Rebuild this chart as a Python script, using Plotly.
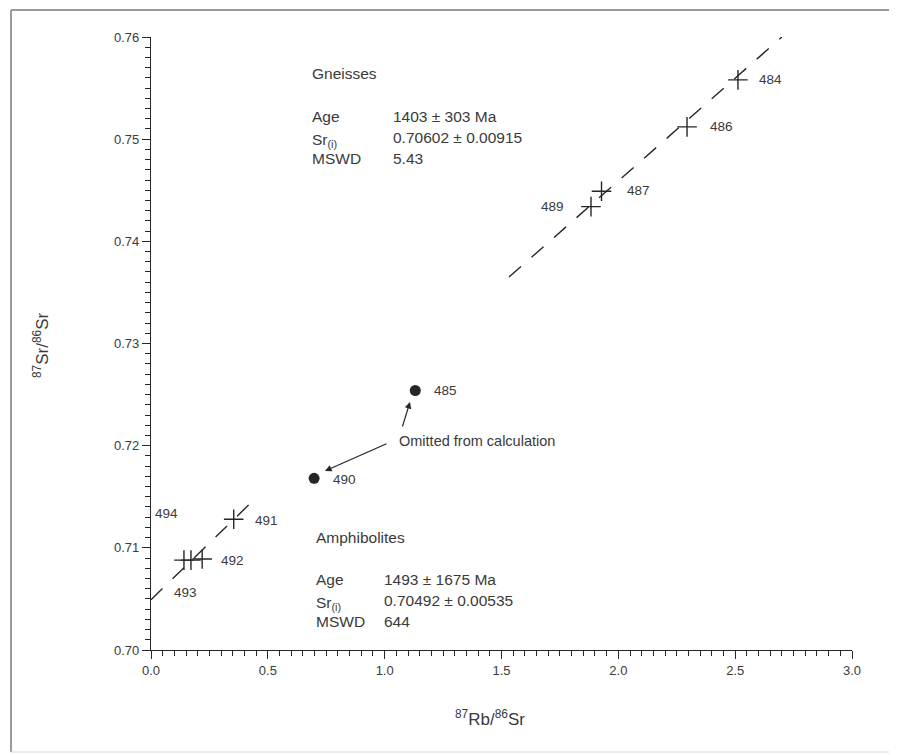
import plotly.graph_objects as go

# ---------------- data ----------------
gneiss_ids = ["484", "486", "487", "489"]
gneiss_rb = [2.512, 2.294, 1.928, 1.883]
gneiss_sr = [0.7558, 0.7512, 0.7449, 0.7434]

amph_ids = ["491", "492", "493", "494"]
amph_rb = [0.354, 0.219, 0.171, 0.141]
amph_sr = [0.7128, 0.7089, 0.7088, 0.7088]

omit_ids = ["485", "490"]
omit_rb = [1.131, 0.698]
omit_sr = [0.7254, 0.7168]

gneiss_line_rb = [1.532, 2.700]
gneiss_line_sr = [0.7365, 0.7600]
amph_line_rb = [0.0, 0.445]
amph_line_sr = [0.70492, 0.7148]

gneiss_stats = [("Age", "1403 ± 303 Ma"), ("Sr<sub>(i)</sub>", "0.70602 ± 0.00915"), ("MSWD", "5.43")]
amph_stats = [("Age", "1493 ± 1675 Ma"), ("Sr<sub>(i)</sub>", "0.70492 ± 0.00535"), ("MSWD", "644")]

x_ticks = [0.0, 0.5, 1.0, 1.5, 2.0, 2.5, 3.0]
y_ticks = [0.70, 0.71, 0.72, 0.73, 0.74, 0.75, 0.76]

# ---------------- styles ----------------
INK = "#262626"
TXT = "#3a3a3a"
FONT = "Arial, Liberation Sans, sans-serif"

# plot area in page pixels (page has an 8px body margin)
PL, PR, PT, PB = 150, 851, 37, 650
OFFX, OFFY = 7, 8

# label offsets (px): xshift, yshift, xanchor
label_style = {
    "484": (19, 0, "left"), "486": (21, 0, "left"), "487": (23, 1, "left"),
    "489": (-25, 0, "right"), "485": (17, 0, "left"), "490": (17, -1, "left"),
    "491": (19, -1, "left"), "492": (17, -1, "left"),
    "494": (-17, 47, "center"), "493": (-5, -32, "center"),
}

fig = go.Figure()

# regression lines
for lx, ly in [(gneiss_line_rb, gneiss_line_sr), (amph_line_rb, amph_line_sr)]:
    fig.add_trace(go.Scatter(x=lx, y=ly, mode="lines",
                             line=dict(color=INK, width=1.4, dash="16px,14px"),
                             hoverinfo="skip", showlegend=False, cliponaxis=False))

# cross markers
fig.add_trace(go.Scatter(x=gneiss_rb + amph_rb, y=gneiss_sr + amph_sr, mode="markers",
                         marker=dict(symbol="cross-thin", size=14,
                                     line=dict(color=INK, width=1.4)),
                         showlegend=False, cliponaxis=False))
# omitted points
fig.add_trace(go.Scatter(x=omit_rb, y=omit_sr, mode="markers",
                         marker=dict(symbol="circle", size=11, color=INK),
                         showlegend=False, cliponaxis=False))

annotations = []
for ids, xs, ys in [(gneiss_ids, gneiss_rb, gneiss_sr), (amph_ids, amph_rb, amph_sr),
                    (omit_ids, omit_rb, omit_sr)]:
    for t, xv, yv in zip(ids, xs, ys):
        dx, dy, anc = label_style[t]
        annotations.append(dict(x=xv, y=yv, xref="x", yref="y", text=t, showarrow=False,
                                xshift=dx, yshift=dy, xanchor=anc, yanchor="middle",
                                font=dict(family=FONT, size=13.5, color=TXT)))

def px_to_data(px, py):
    return (px - 150) / 233.67, 0.70 + (650 - py) / 10217.0

def stat_block(title, stats, x0, x1, ytitle, y0):
    xa, ya = px_to_data(x0, ytitle)
    annotations.append(dict(x=xa, y=ya, text=title, showarrow=False, xanchor="left",
                            yanchor="middle", font=dict(family=FONT, size=15.5, color=TXT)))
    for i, (k, v) in enumerate(stats):
        xk, yk = px_to_data(x0, y0 + 21 * i)
        xv, _ = px_to_data(x1, y0 + 21 * i)
        ysh = -3 if "sub" in k else 0
        annotations.append(dict(x=xk, y=yk, text=k, showarrow=False, xanchor="left",
                                yanchor="middle", yshift=ysh,
                                font=dict(family=FONT, size=15.5, color=TXT)))
        annotations.append(dict(x=xv, y=yk, text=v, showarrow=False, xanchor="left",
                                yanchor="middle", font=dict(family=FONT, size=15.5, color=TXT)))

stat_block("Gneisses", gneiss_stats, 309, 390, 73, 116)
stat_block("Amphibolites", amph_stats, 313, 381, 537, 579)

# omitted note + arrows
nx, ny = px_to_data(396, 441)
annotations.append(dict(x=nx, y=ny, text="Omitted from calculation", showarrow=False,
                        xanchor="left", yanchor="middle",
                        font=dict(family=FONT, size=14.5, color=TXT)))
for (tx, ty), (hx, hy) in [((401, 428), (409, 402)), ((387, 443), (324, 471))]:
    a, b = px_to_data(tx, ty)
    c, d = px_to_data(hx, hy)
    annotations.append(dict(x=c, y=d, ax=a, ay=b, xref="x", yref="y", axref="x", ayref="y",
                            text="", showarrow=True, arrowhead=2, arrowsize=1.1,
                            arrowwidth=1.2, arrowcolor=INK, standoff=0))

# axis titles
annotations.append(dict(x=(489 - 150) / 701, y=(650 - 718) / 613, xref="paper", yref="paper",
                        text="<sup>87</sup>Rb/<sup>86</sup>Sr", showarrow=False,
                        xanchor="center", yanchor="middle",
                        font=dict(family=FONT, size=17, color=TXT)))
annotations.append(dict(x=(40 - 150) / 701, y=(650 - 345) / 613, xref="paper", yref="paper",
                        text="<sup>87</sup>Sr/<sup>86</sup>Sr", showarrow=False, textangle=-90,
                        xanchor="center", yanchor="middle",
                        font=dict(family=FONT, size=17, color=TXT)))

# outer frame (left, top, bottom edges)
fl, fr = (10 - 150) / 701, (1000 - 150) / 701
ft, fb = (650 - 10) / 613, (650 - 752) / 613
frame = dict(type="line", xref="paper", yref="paper",
             line=dict(color="#9a9a9a", width=2), layer="below")
shapes = [dict(frame, x0=fl, x1=fl, y0=fb, y1=ft),
          dict(frame, x0=fl, x1=fr, y0=ft, y1=ft),
          dict(frame, x0=fl, x1=fr, y0=fb, y1=fb, line=dict(color="#d8d8d8", width=1))]

fig.update_layout(
    width=897, height=755,
    margin=dict(l=PL - OFFX, r=897 - (PR - OFFX), t=PT - OFFY, b=755 - (PB - OFFY)),
    paper_bgcolor="white", plot_bgcolor="white",
    annotations=annotations,
    showlegend=False,
    shapes=shapes,
)
fig.update_xaxes(range=[0, 3], tickvals=x_ticks, tickformat=".1f",
                 showline=True, linecolor=INK, linewidth=1.3,
                 ticks="outside", ticklen=8, tickwidth=1.3, tickcolor=INK,
                 minor=dict(dtick=0.05, ticks="outside", ticklen=5, tickwidth=1.1, tickcolor=INK),
                 showgrid=False, zeroline=False,
                 tickfont=dict(family=FONT, size=13, color=TXT))
fig.update_yaxes(range=[0.70, 0.76], tickvals=y_ticks, tickformat=".2f",
                 showline=True, linecolor=INK, linewidth=1.3,
                 ticks="outside", ticklen=8, tickwidth=1.3, tickcolor=INK,
                 minor=dict(dtick=0.001, ticks="outside", ticklen=5, tickwidth=1.1, tickcolor=INK),
                 showgrid=False, zeroline=False,
                 tickfont=dict(family=FONT, size=13, color=TXT))

fig.write_html("out.html")
